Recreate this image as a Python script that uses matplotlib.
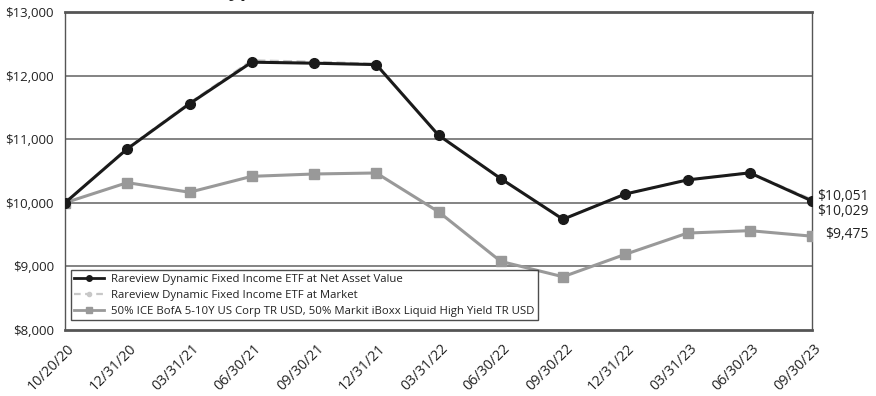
import matplotlib
matplotlib.use("Agg")
import matplotlib.pyplot as plt
import matplotlib.transforms as mtransforms
from matplotlib.lines import Line2D

dates = ["10/20/20", "12/31/20", "03/31/21", "06/30/21", "09/30/21", "12/31/21",
         "03/31/22", "06/30/22", "09/30/22", "12/31/22", "03/31/23", "06/30/23", "09/30/23"]
nav = [10000, 10848, 11557, 12211, 12195, 12173, 11063, 10380, 9741, 10138, 10360, 10471, 10029]
market = [10000, 10860, 11570, 12240, 12218, 12185, 11063, 10380, 9745, 10140, 10362, 10475, 10051]
benchmark = [10000, 10317, 10166, 10416, 10453, 10469, 9859, 9079, 8837, 9190, 9524, 9562, 9475]

nav_label = "Rareview Dynamic Fixed Income ETF at Net Asset Value"
market_label = "Rareview Dynamic Fixed Income ETF at Market"
bench_label = "50% ICE BofA 5-10Y US Corp TR USD, 50% Markit iBoxx Liquid High Yield TR USD"
title = "Hypothetical Growth of $10,000 Investment (1)"
yticks = [8000, 9000, 10000, 11000, 12000, 13000]

plt.rcParams["font.family"] = ["Open Sans", "DejaVu Sans"]

fig = plt.figure(figsize=(8.76, 3.96), dpi=100)
ax = fig.add_axes([65 / 876, 1 - 330 / 396, (812 - 65) / 876, (330 - 12) / 396])

x = list(range(len(dates)))
ax.plot(x, market, color="#c8c8c8", lw=1.6, ls=(0, (4, 2)), marker="o", ms=3, zorder=3)
ax.plot(x, benchmark, color="#999999", lw=2.2, marker="s", ms=7, zorder=4)
ax.plot(x, nav, color="#1a1a1a", lw=2.2, marker="o", ms=7, zorder=5)

ax.set_xlim(0, len(dates) - 1)
ax.set_ylim(8000, 13000)
ax.set_yticks(yticks)
ax.set_yticklabels([f"${v:,}" for v in yticks], fontsize=9.5, color="#222222")
ax.set_xticks(x)
ax.set_xticklabels(dates, rotation=45, ha="right", va="center_baseline",
                   rotation_mode="anchor", fontsize=10.3, color="#222222")
ax.tick_params(length=0)
ax.tick_params(axis="y", pad=8)
ax.tick_params(axis="x", pad=11)
shift = mtransforms.ScaledTranslation(6 / 100, 0, fig.dpi_scale_trans)
for lbl in ax.get_xticklabels():
    lbl.set_transform(lbl.get_transform() + shift)

for v in yticks[1:-1]:
    ax.axhline(v, color="#6e6e6e", lw=1.2, zorder=1)

for side in ("left", "right"):
    ax.spines[side].set_color("#555555")
    ax.spines[side].set_linewidth(1.0)
for side in ("top", "bottom"):
    ax.spines[side].set_color("#555555")
    ax.spines[side].set_linewidth(2.0)

handles = [
    Line2D([], [], color="#1a1a1a", lw=2.0, marker="o", ms=4),
    Line2D([], [], color="#c8c8c8", lw=1.6, ls=(0, (3, 2)), marker="o", ms=3),
    Line2D([], [], color="#999999", lw=2.0, marker="s", ms=4),
]
leg = ax.legend(handles, [nav_label, market_label, bench_label], loc="lower left",
                bbox_to_anchor=(0.008, 0.03), fontsize=8.2, frameon=True, fancybox=False,
                edgecolor="#222222", borderpad=0.3, labelspacing=0.45, handlelength=2.6,
                handletextpad=0.6, borderaxespad=0)
leg.get_frame().set_linewidth(1.0)
for t in leg.get_texts():
    t.set_color("#222222")

# end-of-period values
end_labels = [(market[-1], 196), (nav[-1], 211), (benchmark[-1], 235)]
for val, ypix in end_labels:
    fig.text(869 / 876, 1 - ypix / 396, f"${val:,}", ha="right", va="center",
             fontsize=10, color="#222222")

fig.text(0.503, 1 + 4 / 396, title, ha="center", va="baseline", fontsize=14,
         fontweight="bold", color="#222222")

fig.savefig("out.png", dpi=100)
